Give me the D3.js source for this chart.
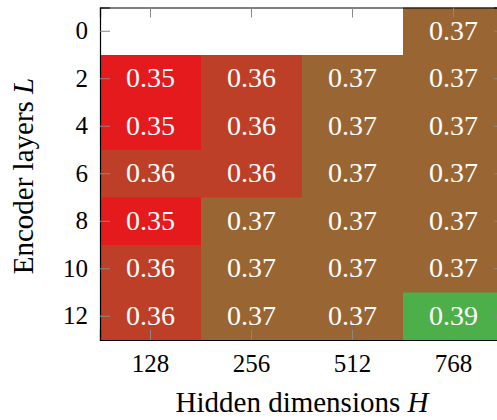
<!DOCTYPE html>
<html>
<head>
<meta charset="utf-8">
<script src="https://cdn.jsdelivr.net/npm/d3@7"></script>
<style>
  body { margin: 0; background: #fff; }
</style>
</head>
<body>
<div id="chart"></div>
<script>
const hidden = [128, 256, 512, 768];
const layers = [0, 2, 4, 6, 8, 10, 12];
const row0 = [null, null, null, 0.37];
const row2 = [0.35, 0.36, 0.37, 0.37];
const row4 = [0.35, 0.36, 0.37, 0.37];
const row6 = [0.36, 0.36, 0.37, 0.37];
const row8 = [0.35, 0.37, 0.37, 0.37];
const row10 = [0.36, 0.37, 0.37, 0.37];
const row12 = [0.36, 0.37, 0.37, 0.39];
const rows = [row0, row2, row4, row6, row8, row10, row12];

const W = 497, H = 420;
const plot = { left: 100, right: 504, top: 7.5, bottom: 340 };
const serif = "Liberation Serif";

const svg = d3.select("#chart")
  .append("svg")
  .attr("width", W)
  .attr("height", H);

const x = d3.scaleBand()
  .domain(hidden)
  .range([plot.left, plot.right]);

const y = d3.scaleBand()
  .domain(layers)
  .range([plot.top, plot.bottom]);

const color = d3.scaleLinear()
  .domain([0.35, 0.39])
  .range(["#e41a1c", "#4daf4a"]);

// monta as celulas
const cells = [];
rows.forEach((r, i) => {
  r.forEach((v, j) => {
    if (v !== null) cells.push({ L: layers[i], H: hidden[j], v: v });
  });
});

svg.append("g")
  .selectAll("rect")
  .data(cells)
  .join("rect")
  .attr("x", d => x(d.H))
  .attr("y", d => y(d.L))
  .attr("width", x.bandwidth() + 0.5)
  .attr("height", y.bandwidth() + 0.5)
  .attr("fill", d => color(d.v));

svg.append("g")
  .selectAll("text")
  .data(cells)
  .join("text")
  .attr("x", d => x(d.H) + x.bandwidth() / 2)
  .attr("y", d => y(d.L) + y.bandwidth() / 2)
  .attr("dy", "0.3em")
  .attr("text-anchor", "middle")
  .attr("font-family", serif)
  .attr("font-size", "28px")
  .attr("fill", "#fff")
  .text(d => d3.format(".2f")(d.v));

// eixos (ticks para dentro, cinza)
const tickLen = 10;
const xAxisB = svg.append("g")
  .attr("transform", `translate(0, ${plot.bottom})`)
  .call(d3.axisBottom(x).tickSize(-tickLen).tickPadding(14));
const xAxisT = svg.append("g")
  .attr("transform", `translate(0, ${plot.top})`)
  .call(d3.axisTop(x).tickSize(-tickLen).tickFormat(""));
const yAxisL = svg.append("g")
  .attr("transform", `translate(${plot.left}, 0)`)
  .call(d3.axisLeft(y).tickSize(-tickLen).tickPadding(12));
const yAxisR = svg.append("g")
  .attr("transform", `translate(${plot.right}, 0)`)
  .call(d3.axisRight(y).tickSize(-tickLen).tickFormat(""));

[xAxisB, xAxisT, yAxisL, yAxisR].forEach(a => {
  a.attr("font-family", serif);
  a.select(".domain").attr("stroke", "#000").attr("stroke-width", 1.2);
  a.selectAll(".tick line").attr("stroke", "#888").attr("stroke-width", 1);
  a.selectAll(".tick text")
    .attr("fill", "#000")
    .attr("font-family", serif)
    .attr("font-size", "25px");
});

// rotulos dos eixos
const xl = svg.append("text")
  .attr("x", 302)
  .attr("y", 412)
  .attr("text-anchor", "middle")
  .attr("font-family", serif)
  .attr("font-size", "29px")
  .attr("fill", "#000");
xl.append("tspan").text("Hidden dimensions ");
xl.append("tspan").attr("font-style", "italic").text("H");

const yl = svg.append("text")
  .attr("transform", "translate(33, 176) rotate(-90)")
  .attr("text-anchor", "middle")
  .attr("font-family", serif)
  .attr("font-size", "29px")
  .attr("fill", "#000");
yl.append("tspan").text("Encoder layers ");
yl.append("tspan").attr("font-style", "italic").text("L");
</script>
</body>
</html>
